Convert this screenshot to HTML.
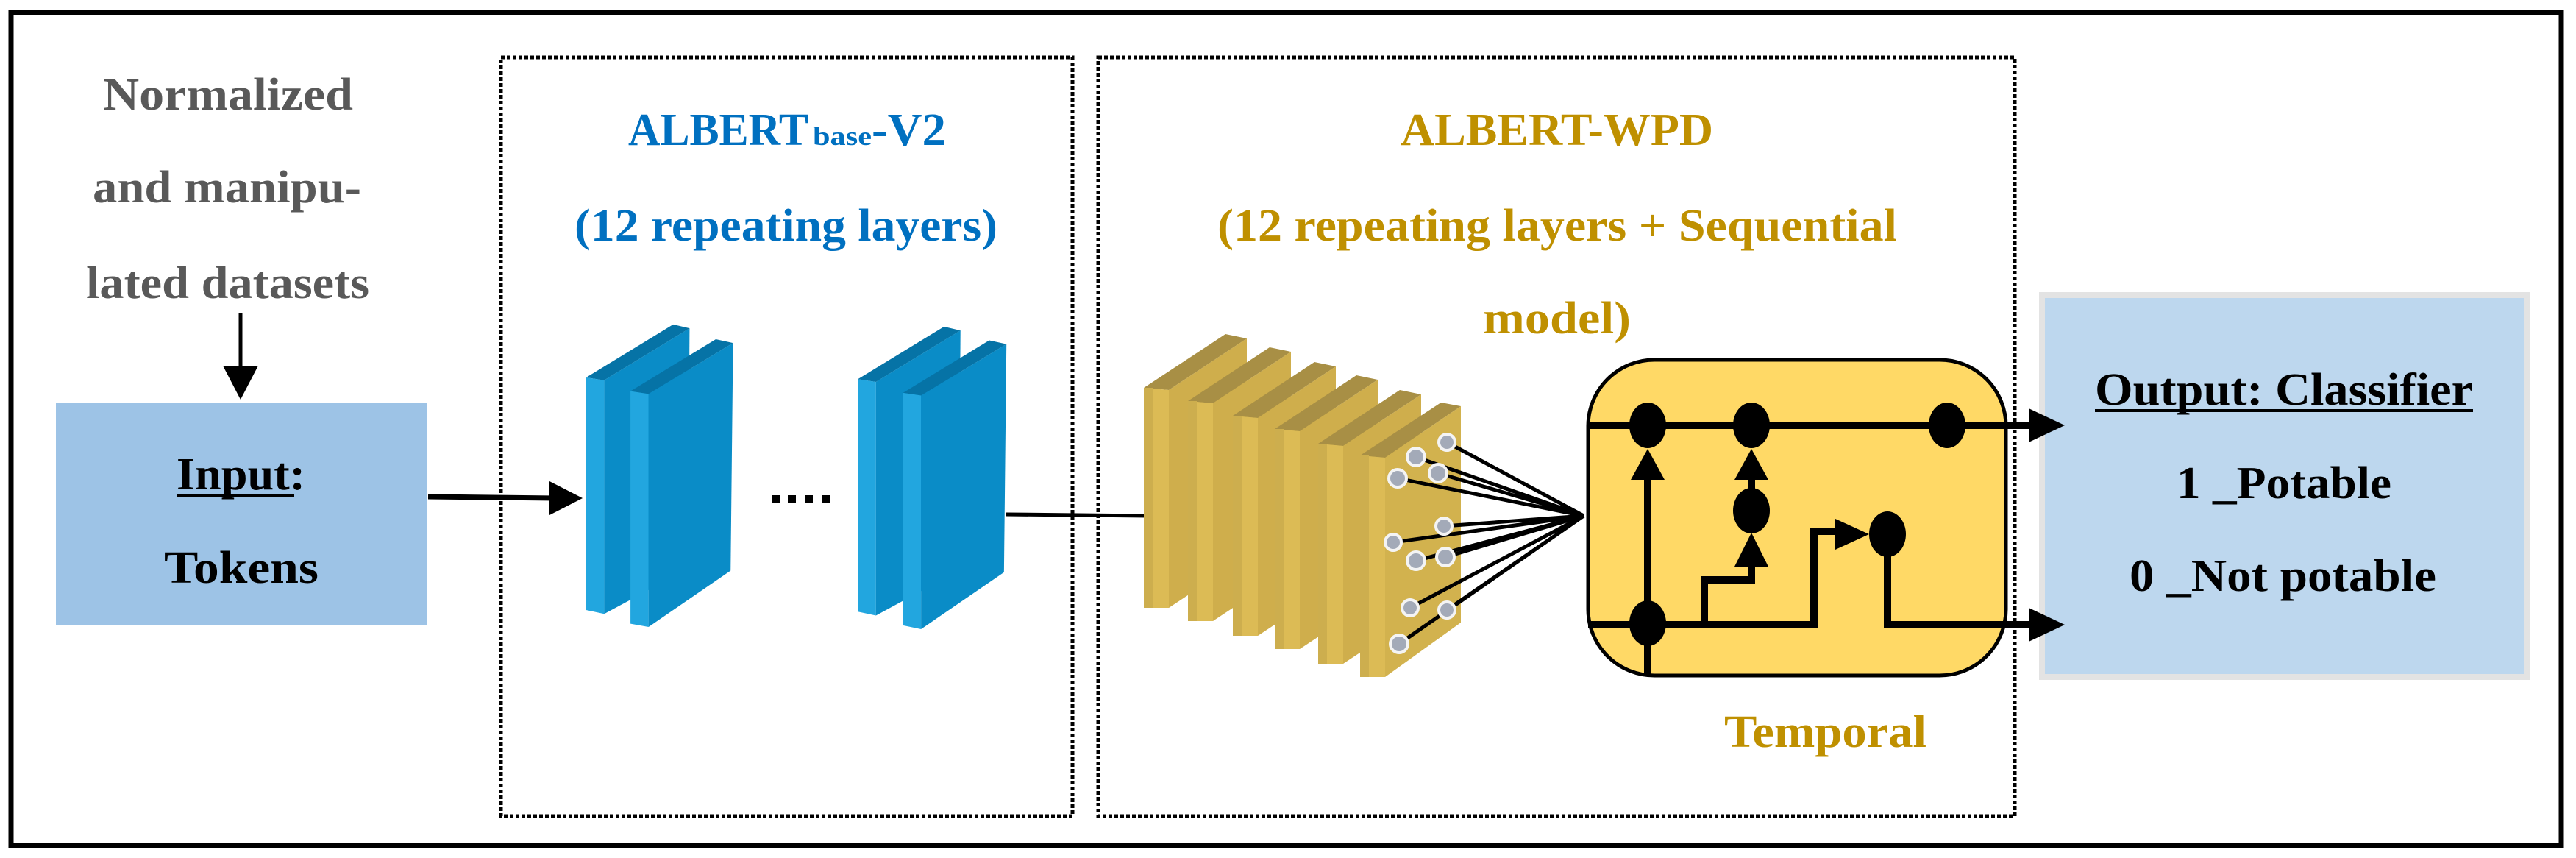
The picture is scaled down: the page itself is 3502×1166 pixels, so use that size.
<!DOCTYPE html>
<html><head><meta charset="utf-8"><style>
html,body{margin:0;padding:0;background:#fff}
svg{display:block}
text{font-family:"Liberation Serif",serif;font-weight:bold}
</style></head><body>
<svg width="3502" height="1166" viewBox="0 0 3502 1166" xmlns="http://www.w3.org/2000/svg">
<rect x="0" y="0" width="3502" height="1166" fill="#fff"/>
<rect x="15" y="17" width="3467" height="1132" fill="none" stroke="#000" stroke-width="7"/>

<g fill="#595959" font-size="62">
<text x="140" y="149" textLength="340" lengthAdjust="spacingAndGlyphs">Normalized</text>
<text x="126" y="275" textLength="365" lengthAdjust="spacingAndGlyphs">and manipu-</text>
<text x="117" y="405" textLength="385" lengthAdjust="spacingAndGlyphs">lated datasets</text>
</g>
<line x1="327" y1="425" x2="327" y2="505" stroke="#000" stroke-width="5"/>
<polygon points="303,497 351,497 327,543" fill="#000"/>

<rect x="76" y="548" width="504" height="301" fill="#9dc3e6"/>
<g fill="#000" font-size="62">
<text x="240" y="665" textLength="175" lengthAdjust="spacingAndGlyphs">Input:</text>
<line x1="240" y1="674" x2="400" y2="674" stroke="#000" stroke-width="4"/>
<text x="223" y="792" textLength="210" lengthAdjust="spacingAndGlyphs">Tokens</text>
</g>
<line x1="582" y1="675" x2="755" y2="677" stroke="#000" stroke-width="7"/>
<polygon points="747,654 792,677 747,700" fill="#000"/>

<rect x="681" y="78" width="777" height="1031" fill="none" stroke="#000" stroke-width="5" stroke-dasharray="5,3"/>
<rect x="1493" y="78" width="1246" height="1031" fill="none" stroke="#000" stroke-width="5" stroke-dasharray="5,3"/>

<g fill="#0070c0">
<text x="854" y="197" font-size="62" textLength="245" lengthAdjust="spacingAndGlyphs">ALBERT</text>
<text x="1105" y="197" font-size="36" textLength="80" lengthAdjust="spacingAndGlyphs">base</text>
<text x="1185" y="197" font-size="62" textLength="101" lengthAdjust="spacingAndGlyphs">-V2</text>
<text x="781" y="327" font-size="62" textLength="575" lengthAdjust="spacingAndGlyphs">(12 repeating layers)</text>
</g>

<g transform="scale(1.116,0.7435)">
<polygon points="714,690 820,593 840,600 736,695" fill="#0673a6"/>
<polygon points="714,690 736,695 736,1122 714,1115" fill="#22a6df"/>
<polygon points="736,695 840,600 838,1040 736,1122" fill="#0a8cc7"/>
<polygon points="768,715 872,620 893,627 790,720" fill="#0673a6"/>
<polygon points="768,715 790,720 790,1146 768,1140" fill="#22a6df"/>
<polygon points="790,720 893,627 890,1043 790,1146" fill="#0a8cc7"/>
<polygon points="1045,693 1150,597 1170,604 1067,698" fill="#0673a6"/>
<polygon points="1045,693 1067,698 1067,1125 1045,1118" fill="#22a6df"/>
<polygon points="1067,698 1170,604 1168,1043 1067,1125" fill="#0a8cc7"/>
<polygon points="1100,718 1205,622 1226,629 1122,723" fill="#0673a6"/>
<polygon points="1100,718 1122,723 1122,1150 1100,1143" fill="#22a6df"/>
<polygon points="1122,723 1226,629 1223,1046 1122,1150" fill="#0a8cc7"/>
</g>
<g fill="#000">
<rect x="1049" y="673" width="11" height="11"/><rect x="1071" y="673" width="11" height="11"/>
<rect x="1094" y="673" width="11" height="11"/><rect x="1117" y="673" width="11" height="11"/>
</g>
<line x1="1368" y1="699" x2="1560" y2="701" stroke="#000" stroke-width="5"/>

<g fill="#bf9000" font-size="62">
<text x="1904" y="197" textLength="425" lengthAdjust="spacingAndGlyphs">ALBERT-WPD</text>
<text x="1655" y="327" textLength="924" lengthAdjust="spacingAndGlyphs">(12 repeating layers + Sequential</text>
<text x="2016" y="453" textLength="201" lengthAdjust="spacingAndGlyphs">model)</text>
<text x="2344" y="1015" textLength="275" lengthAdjust="spacingAndGlyphs">Temporal</text>
</g>

<!-- gold slabs, real coords -->
<g>
<polygon points="1555,527 1666,454 1695,460 1589,530" fill="#a88f45"/>
<polygon points="1589,530 1695,460 1695,756 1589,826" fill="#cfae4c"/>
<polygon points="1555,527 1589,530 1589,826 1555,826" fill="#dcbb55"/>
<rect x="1555" y="527" width="12" height="299" fill="#cdae4e"/>

<polygon points="1615,545 1726,472 1755,478 1649,548" fill="#a88f45"/>
<polygon points="1649,548 1755,478 1755,774 1649,844" fill="#cfae4c"/>
<polygon points="1615,545 1649,548 1649,844 1615,844" fill="#dcbb55"/>
<rect x="1615" y="545" width="12" height="299" fill="#cdae4e"/>

<polygon points="1676,565 1787,492 1816,498 1710,568" fill="#a88f45"/>
<polygon points="1710,568 1816,498 1816,794 1710,864" fill="#cfae4c"/>
<polygon points="1676,565 1710,568 1710,864 1676,864" fill="#dcbb55"/>
<rect x="1676" y="565" width="12" height="299" fill="#cdae4e"/>

<polygon points="1733,583 1844,510 1873,516 1767,586" fill="#a88f45"/>
<polygon points="1767,586 1873,516 1873,812 1767,882" fill="#cfae4c"/>
<polygon points="1733,583 1767,586 1767,882 1733,882" fill="#dcbb55"/>
<rect x="1733" y="583" width="12" height="299" fill="#cdae4e"/>

<polygon points="1792,603 1903,530 1932,536 1826,606" fill="#a88f45"/>
<polygon points="1826,606 1932,536 1932,832 1826,902" fill="#cfae4c"/>
<polygon points="1792,603 1826,606 1826,902 1792,902" fill="#dcbb55"/>
<rect x="1792" y="603" width="12" height="299" fill="#cdae4e"/>

<polygon points="1849,619 1959,547 1986,552 1883,622" fill="#a88f45"/>
<polygon points="1883,622 1986,552 1986,846 1883,920" fill="#d2b24e"/>
<polygon points="1849,619 1883,622 1883,920 1849,920" fill="#dcbb55"/>
<rect x="1849" y="619" width="12" height="301" fill="#cdae4e"/>
</g>
<g stroke="#000" stroke-width="5">
<line x1="1967" y1="601" x2="2153" y2="701"/>
<line x1="1925" y1="621" x2="2153" y2="701"/>
<line x1="1955" y1="643" x2="2153" y2="701"/>
<line x1="1900" y1="650" x2="2153" y2="701"/>
<line x1="1963" y1="715" x2="2153" y2="701"/>
<line x1="1894" y1="737" x2="2153" y2="701"/>
<line x1="1925" y1="762" x2="2153" y2="701"/>
<line x1="1965" y1="757" x2="2153" y2="701"/>
<line x1="1917" y1="826" x2="2153" y2="701"/>
<line x1="1967" y1="829" x2="2153" y2="701"/>
<line x1="1902" y1="875" x2="2153" y2="701"/>
</g>
<g fill="#a3aab8" stroke="#f4f4f4" stroke-width="4">
<circle cx="1967" cy="601" r="11"/>
<circle cx="1925" cy="621" r="12"/>
<circle cx="1955" cy="643" r="12"/>
<circle cx="1900" cy="650" r="12"/>
<circle cx="1963" cy="715" r="11"/>
<circle cx="1894" cy="737" r="11"/>
<circle cx="1925" cy="762" r="12"/>
<circle cx="1965" cy="757" r="12"/>
<circle cx="1917" cy="826" r="11"/>
<circle cx="1967" cy="829" r="11"/>
<circle cx="1902" cy="875" r="12"/>
</g>

<rect x="2159" y="489" width="568" height="429" rx="90" ry="90" fill="#ffd966" stroke="#000" stroke-width="5"/>
<g stroke="#000" stroke-width="10" fill="none">
<line x1="2159" y1="578" x2="2770" y2="578"/>
<line x1="2159" y1="849" x2="2240" y2="849"/>
<polyline points="2240,849 2466,849 2466,722 2505,722"/>
<polyline points="2566,726 2566,849 2770,849"/>
<line x1="2240" y1="916" x2="2240" y2="645"/>
<polyline points="2317,849 2317,788 2381,788 2381,765"/>
<line x1="2381" y1="694" x2="2381" y2="645"/>
</g>
<g fill="#000">
<polygon points="2217,652 2263,652 2240,610"/>
<polygon points="2358,652 2404,652 2381,610"/>
<polygon points="2358,770 2404,770 2381,724"/>
<polygon points="2495,705 2541,726 2495,747"/>
<ellipse cx="2240" cy="578" rx="25" ry="31"/>
<ellipse cx="2381" cy="578" rx="25" ry="31"/>
<ellipse cx="2647" cy="578" rx="25" ry="31"/>
<ellipse cx="2381" cy="694" rx="25" ry="31"/>
<ellipse cx="2566" cy="726" rx="25" ry="31"/>
<ellipse cx="2240" cy="847" rx="25" ry="31"/>
</g>

<rect x="2776" y="401" width="659" height="519" fill="#bdd7ee" stroke="#e3e3e3" stroke-width="8"/>
<g fill="#000">
<polygon points="2758,555 2807,578 2758,601"/>
<polygon points="2758,826 2807,849 2758,872"/>
</g>
<g fill="#000" font-size="62">
<text x="2848" y="550" textLength="514" lengthAdjust="spacingAndGlyphs">Output: Classifier</text>
<line x1="2848" y1="558" x2="3362" y2="558" stroke="#000" stroke-width="4"/>
<text x="2959" y="677" textLength="292" lengthAdjust="spacingAndGlyphs">1 _Potable</text>
<text x="2895" y="803" textLength="417" lengthAdjust="spacingAndGlyphs">0 _Not potable</text>
</g>
</svg>
</body></html>
